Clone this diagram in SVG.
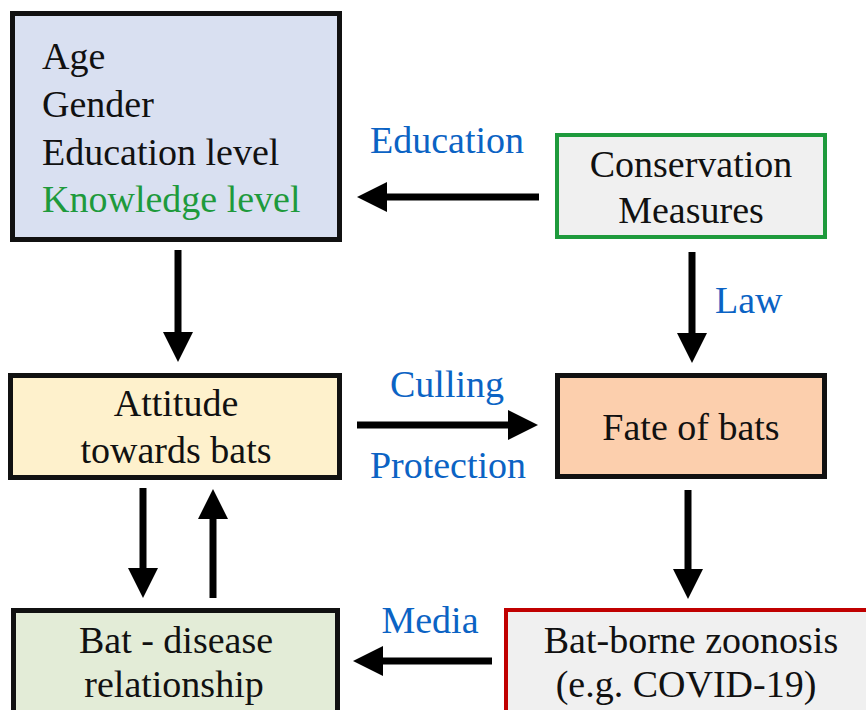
<svg xmlns="http://www.w3.org/2000/svg" width="866" height="710" viewBox="0 0 866 710">
<style>
text{font-family:'Liberation Serif','Tinos','Times New Roman','DejaVu Serif','Noto Serif',serif;font-size:38px;fill:#111}
.c{text-anchor:middle}
.lbl{fill:#0b63c4}
.k{fill:#1e9a3c}
.box{stroke:#111;stroke-width:5}
.conn{stroke:#000;stroke-width:7;fill:none;marker-end:url(#ah)}
</style>
<defs>
<marker id="ah" markerUnits="userSpaceOnUse" markerWidth="32" markerHeight="32" viewBox="0 0 32 30" refX="2" refY="15" orient="auto">
<path d="M0,0 L30,15 L0,30 z" fill="#000"/>
</marker>
</defs>
<rect width="866" height="710" fill="#fff"/>
<g id="demographics">
<rect class="box" x="12.5" y="13.5" width="327" height="226" fill="#d9e0f1"/>
<text x="42" y="69">Age</text>
<text x="42" y="117">Gender</text>
<text x="42" y="165">Education level</text>
<text x="42" y="212" class="k">Knowledge level</text>
</g>
<g id="conservation">
<rect x="557" y="135" width="268" height="102" fill="#f0f0f0" stroke="#1e9a3c" stroke-width="4"/>
<text class="c" x="691" y="177">Conservation</text>
<text class="c" x="691" y="223">Measures</text>
</g>
<g id="attitude">
<rect class="box" x="10.5" y="375.5" width="329" height="102" fill="#fef1cc"/>
<text class="c" x="176" y="416">Attitude</text>
<text class="c" x="176" y="463">towards bats</text>
</g>
<g id="fate">
<rect class="box" x="557.5" y="375.5" width="267" height="101" fill="#fccfad"/>
<text class="c" x="691" y="440">Fate of bats</text>
</g>
<g id="batdisease">
<rect class="box" x="13.5" y="610.5" width="324" height="110" fill="#e3ecd7"/>
<text class="c" x="176" y="653">Bat - disease</text>
<text class="c" x="174" y="697">relationship</text>
</g>
<g id="zoonosis">
<rect x="506" y="610" width="380" height="110" fill="#f0f0f0" stroke="#c00000" stroke-width="4"/>
<text class="c" x="691" y="653">Bat-borne zoonosis</text>
<text class="c" x="686" y="697">(e.g. COVID-19)</text>
</g>
<g id="connectors">
<line class="conn" x1="539" y1="197" x2="385" y2="197"/>
<line class="conn" x1="178" y1="250" x2="178" y2="334"/>
<line class="conn" x1="692" y1="252" x2="692" y2="335"/>
<line class="conn" x1="357" y1="425" x2="510" y2="425"/>
<line class="conn" x1="688" y1="490" x2="688" y2="571"/>
<line class="conn" x1="143" y1="488" x2="143" y2="570"/>
<line class="conn" x1="213" y1="598" x2="213" y2="517"/>
<line class="conn" x1="492" y1="661" x2="381" y2="661"/>
</g>
<g id="labels">
<text class="c lbl" x="447" y="153">Education</text>
<text class="lbl" x="715" y="313">Law</text>
<text class="c lbl" x="447" y="397">Culling</text>
<text class="c lbl" x="448" y="478">Protection</text>
<text class="c lbl" x="430" y="633">Media</text>
</g>
</svg>
